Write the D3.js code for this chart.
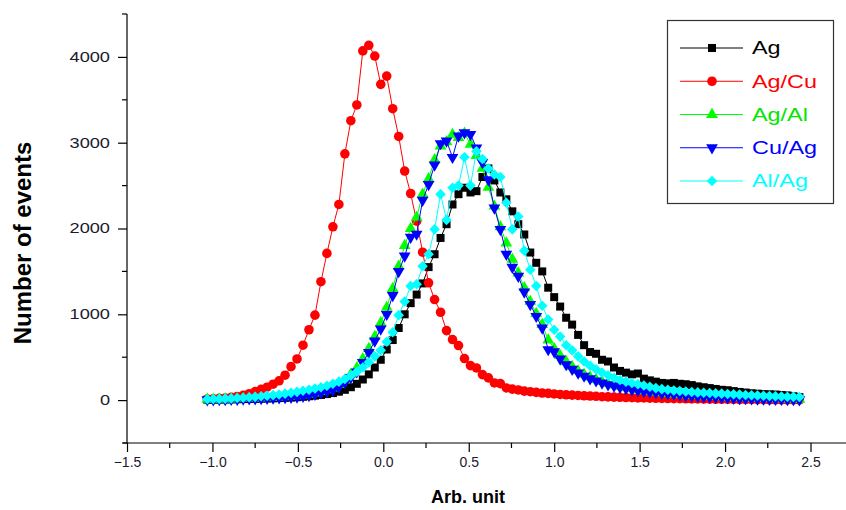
<!DOCTYPE html>
<html>
<head>
<meta charset="utf-8">
<script src="https://cdn.jsdelivr.net/npm/d3@7/dist/d3.min.js"></script>
<style>
  html, body { margin: 0; padding: 0; background: #fff; }
  svg { display: block; }
  text { font-family: "Liberation Sans", Arial, sans-serif; }
</style>
</head>
<body>
<svg id="chart" width="846" height="510"></svg>
<script>
// ---- data ----
const xBins = [-1.03,-0.995,-0.96,-0.925,-0.89,-0.855,-0.82,-0.785,-0.75,-0.715,-0.68,-0.645,-0.61,-0.575,-0.54,-0.505,-0.47,-0.435,-0.4,-0.365,-0.33,-0.295,-0.26,-0.225,-0.19,-0.155,-0.12,-0.085,-0.05,-0.015,0.02,0.055,0.09,0.125,0.16,0.195,0.23,0.265,0.3,0.335,0.37,0.405,0.44,0.475,0.51,0.545,0.58,0.615,0.65,0.685,0.72,0.755,0.79,0.825,0.86,0.895,0.93,0.965,1.0,1.035,1.07,1.105,1.14,1.175,1.21,1.245,1.28,1.315,1.35,1.385,1.42,1.455,1.49,1.525,1.56,1.595,1.63,1.665,1.7,1.735,1.77,1.805,1.84,1.875,1.91,1.945,1.98,2.015,2.05,2.085,2.12,2.155,2.19,2.225,2.26,2.295,2.33,2.365,2.4,2.435];

const ag = [5,6,7,8,9,10,12,13,15,17,19,21,24,27,30,34,39,45,52,60,70,82,98,120,150,190,240,300,380,470,590,700,840,1000,1130,1230,1360,1550,1700,1890,2050,2280,2400,2475,2420,2435,2600,2700,2560,2420,2340,2200,2050,1930,1720,1600,1500,1310,1200,1090,960,880,760,640,560,540,470,450,380,340,320,300,310,250,230,215,200,195,200,190,185,175,160,150,140,130,120,115,105,95,88,80,75,70,68,65,60,55,45,35];

const agCu = [12,15,20,25,32,42,55,75,100,125,150,185,225,290,390,480,640,820,990,1380,1710,2020,2280,2870,3256,3440,4070,4135,4010,3680,3776,3396,3073,2670,2408,2085,1724,1367,1172,1024,810,706,636,484,402,375,297,259,200,192,142,128,118,105,98,90,82,78,72,66,62,58,54,50,47,44,40,38,35,33,30,28,26,25,23,21,20,18,17,16,15,14,13,12,11,10,9,9,8,7,7,6,5,5,4,4,3,3,2,2];

const agAl = [8,9,10,12,13,15,17,19,21,24,27,30,34,38,43,50,58,68,82,98,118,140,180,235,300,375,480,600,740,900,1080,1300,1560,1800,2000,2130,2400,2580,2800,2960,3010,3096,3060,3110,2980,2850,2700,2480,2260,2020,1830,1640,1480,1310,1150,1010,880,700,600,520,450,390,340,300,268,240,215,193,175,158,143,130,118,108,99,91,84,77,71,66,61,56,52,48,44,41,38,35,32,29,27,24,22,20,18,16,14,12,10,9];

const cuAg = [5,6,7,8,10,11,13,15,17,19,21,24,27,30,34,38,45,55,68,85,100,115,150,205,265,330,440,555,690,830,1000,1220,1500,1680,1900,1935,2330,2513,2740,2990,3020,2830,3080,3116,3096,2940,2770,2570,2240,1990,1700,1550,1444,1260,1114,977,842,589,565,480,414,360,317,280,250,225,200,180,165,150,135,122,112,102,95,88,80,74,68,63,52,48,44,40,36,33,30,27,24,20,18,16,14,12,11,10,9,8,7,6];

const alAg = [10,12,14,17,20,24,28,33,38,44,50,58,66,75,85,96,108,120,135,150,168,190,215,245,285,330,380,440,510,580,680,790,990,1150,1330,1350,1560,1700,1990,2400,2100,2475,2500,2830,2500,2900,2810,2700,2630,2600,2300,1990,2140,1740,1520,1330,1100,940,820,740,640,580,510,450,400,360,320,290,260,235,215,200,185,170,155,140,128,120,112,106,100,95,90,86,82,78,75,72,68,64,60,57,53,50,47,44,42,40,38,36];

const seriesNames = ["Ag", "Ag/Cu", "Ag/Al", "Cu/Ag", "Al/Ag"];
const seriesColors = ["#000000", "#ff0000", "#00ff00", "#0000ff", "#00ffff"];
const legendTextColors = ["#000000", "#ff0000", "#00e600", "#0000ff", "#00ffff"];
const xTickValues = [-1.5, -1.0, -0.5, 0.0, 0.5, 1.0, 1.5, 2.0, 2.5];
const yTickValues = [0, 1000, 2000, 3000, 4000];
const xTitle = "Arb. unit";
const yTitle = "Number of events";

// ---- drawing ----
const svg = d3.select("#chart");
const x = d3.scaleLinear().domain([-1.5, 2.5]).range([127, 810.5]);
const y = d3.scaleLinear().domain([-500, 4500]).range([443, 14]);

const allSeries = [ag, agCu, agAl, cuAg, alAg];
const symbols = [
  {type: d3.symbolSquare, size: 64, rot: 0},
  {type: d3.symbolCircle, size: 72, rot: 0},
  {type: d3.symbolTriangle, size: 60, rot: 0},
  {type: d3.symbolTriangle, size: 60, rot: 180},
  {type: d3.symbolSquare, size: 56, rot: 45}
];

const xMinor = d3.range(-1.25, 2.5, 0.5);
const yMinor = d3.range(-500, 4501, 1000);

const axG = svg.append("g");
axG.append("line").attr("x1", 123).attr("x2", 846).attr("y1", 443).attr("y2", 443)
  .attr("stroke", "#000").attr("stroke-width", 1.2);
axG.append("line").attr("x1", 127).attr("x2", 127).attr("y1", 14).attr("y2", 443)
  .attr("stroke", "#000").attr("stroke-width", 1.2);

const xAxis = d3.axisBottom(x).tickValues(xTickValues).tickSize(9).tickPadding(5)
  .tickFormat(d3.format(".1f"));
const gx = svg.append("g").attr("transform", "translate(0,443)").call(xAxis);
gx.select(".domain").remove();
gx.selectAll("text").attr("font-size", 14).attr("fill", "#1a1a2e")
  .attr("font-family", "Liberation Sans, Arial, sans-serif");
gx.selectAll("line").attr("stroke-width", 1.2);
gx.selectAll(".minor").data(xMinor).enter().append("line")
  .attr("x1", d => x(d)).attr("x2", d => x(d)).attr("y1", 0).attr("y2", 5)
  .attr("stroke", "#000").attr("stroke-width", 1.2);

const yAxis = d3.axisLeft(y).tickValues(yTickValues).tickSize(9).tickPadding(0)
  .tickFormat(d3.format("d"));
const gy = svg.append("g").attr("transform", "translate(127,0)").call(yAxis);
gy.select(".domain").remove();
gy.selectAll("line").attr("stroke-width", 1.2);
gy.selectAll(".tick text")
  .attr("x", null)
  .attr("font-size", 14).attr("fill", "#1a1a2e")
  .attr("font-family", "Liberation Sans, Arial, sans-serif")
  .attr("transform", "translate(-17,0) scale(1.3,1)");
gy.selectAll(".minor").data(yMinor).enter().append("line")
  .attr("x1", 0).attr("x2", -5).attr("y1", d => y(d)).attr("y2", d => y(d))
  .attr("stroke", "#000").attr("stroke-width", 1.2);

// titles
svg.append("text").attr("x", 468).attr("y", 503).attr("text-anchor", "middle")
  .attr("font-size", 18).attr("font-weight", "bold").text(xTitle);
svg.append("text").attr("transform", "translate(31,243) rotate(-90)")
  .attr("text-anchor", "middle").attr("font-size", 24).attr("font-weight", "bold").text(yTitle);

// series
const line = d3.line().x(d => x(d[0])).y(d => y(d[1]));
allSeries.forEach((vals, si) => {
  const pts = xBins.map((xv, i) => [xv, vals[i]]);
  const g = svg.append("g");
  g.append("path").datum(pts).attr("d", line).attr("fill", "none")
    .attr("stroke", seriesColors[si]).attr("stroke-width", 1);
  const sym = d3.symbol().type(symbols[si].type).size(symbols[si].size);
  g.selectAll("path.m").data(pts).enter().append("path").attr("class", "m")
    .attr("d", sym)
    .attr("transform", d => `translate(${x(d[0])},${y(d[1])}) rotate(${symbols[si].rot})`)
    .attr("fill", seriesColors[si]);
});

// legend
const lg = svg.append("g");
lg.append("rect").attr("x", 667.5).attr("y", 20.5).attr("width", 166).attr("height", 183)
  .attr("fill", "#fff").attr("stroke", "#333").attr("stroke-width", 1.2);
const legY = d3.scalePoint().domain(seriesNames).range([48, 181]);
seriesNames.forEach((nm, si) => {
  const yy = legY(nm);
  lg.append("line").attr("x1", 680).attr("x2", 743).attr("y1", yy).attr("y2", yy)
    .attr("stroke", seriesColors[si]).attr("stroke-width", 1);
  const sym = d3.symbol().type(symbols[si].type).size(symbols[si].size);
  lg.append("path").attr("d", sym)
    .attr("transform", `translate(712,${yy}) rotate(${symbols[si].rot})`)
    .attr("fill", seriesColors[si]);
  lg.append("text").attr("transform", `translate(752,${yy}) scale(1.3,1)`)
    .attr("dy", "0.35em")
    .attr("font-size", 18).attr("fill", legendTextColors[si])
    .text(nm);
});
</script>
</body>
</html>
